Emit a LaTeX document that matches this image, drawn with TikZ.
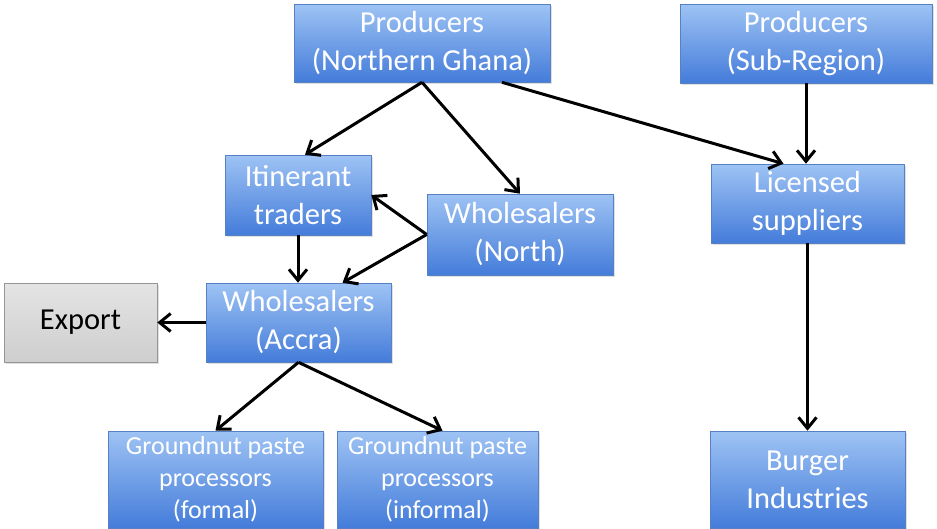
\documentclass[tikz,border=0pt]{standalone}
\usepackage{fontspec}
\setmainfont{Carlito}
\usepackage{tikz}
\usetikzlibrary{arrows.meta}
\usetikzlibrary{shadows}
\definecolor{boxtop}{RGB}{158,195,244}
\definecolor{boxbottom}{RGB}{68,124,218}
\definecolor{boxedge}{RGB}{88,128,196}
\definecolor{greytop}{RGB}{228,228,228}
\definecolor{greybottom}{RGB}{206,206,206}
\definecolor{greyedge}{RGB}{150,150,150}

\begin{document}
\begin{tikzpicture}[x=1pt,y=-1pt,
	actor/.style={draw=boxedge, line width=0.6pt, top color=boxtop, bottom color=boxbottom,
		text=white, align=center, inner sep=0pt, font=\fontsize{30.5}{38}\selectfont,
		drop shadow={shadow xshift=1.5pt, shadow yshift=-2pt, opacity=0.25}},
	processor/.style={actor, font=\fontsize{26}{32}\selectfont},
	outlet/.style={actor, draw=greyedge, top color=greytop, bottom color=greybottom, text=black},
	flow/.style={line width=3pt, -{Straight Barb[length=11pt,width=18pt]}},
	]
	\useasboundingbox (0,0) rectangle (937,528);
	
	\node[actor, minimum width=256pt, minimum height=78pt] (prodNorth) at (422,43) {Producers\\(Northern Ghana)};
	\node[actor, minimum width=252pt, minimum height=79pt] (prodSub) at (806,43.5) {Producers\\(Sub-Region)};
	\node[actor, minimum width=146pt, minimum height=80pt] (itinerant) at (298,195) {Itinerant\\traders};
	\node[actor, minimum width=186pt, minimum height=81pt] (wsNorth) at (520,234.5) {Wholesalers\\(North)};
	\node[actor, minimum width=193pt, minimum height=79pt] (licensed) at (807.5,203.5) {Licensed\\suppliers};
	\node[actor, minimum width=185pt, minimum height=79pt] (wsAccra) at (298.5,322.5) {Wholesalers\\(Accra)};
	\node[outlet, minimum width=153pt, minimum height=79pt] (export) at (80.5,322.5) {Export};
	\node[processor, minimum width=215pt, minimum height=97pt] (gpFormal) at (215.5,479.5) {Groundnut paste\\processors\\(formal)};
	\node[processor, minimum width=201pt, minimum height=97pt] (gpInformal) at (437.5,479.5) {Groundnut paste\\processors\\(informal)};
	\node[actor, minimum width=195pt, minimum height=97pt] (burger) at (807.5,479.5) {Burger\\Industries};
	
	\draw[flow] (prodNorth.south) -- ([xshift=7pt]itinerant.north);
	\draw[flow] (prodNorth.south) -- (wsNorth.north);
	\draw[flow] ([xshift=80pt]prodNorth.south) -- ([xshift=-24pt]licensed.north);
	\draw[flow] (prodSub.south) -- (prodSub.south |- licensed.north);
	\draw[flow] (wsNorth.west) -- (itinerant.east);
	\draw[flow] (wsNorth.west) -- ([xshift=44pt]wsAccra.north);
	\draw[flow] (itinerant.south) -- (itinerant.south |- wsAccra.north);
	\draw[flow] (wsAccra.west) -- (export.east);
	\draw[flow] (wsAccra.south) -- (gpFormal.north);
	\draw[flow] (wsAccra.south) -- ([xshift=5pt]gpInformal.north);
	\draw[flow] (licensed.south) -- (burger.north);
\end{tikzpicture}
\end{document}
